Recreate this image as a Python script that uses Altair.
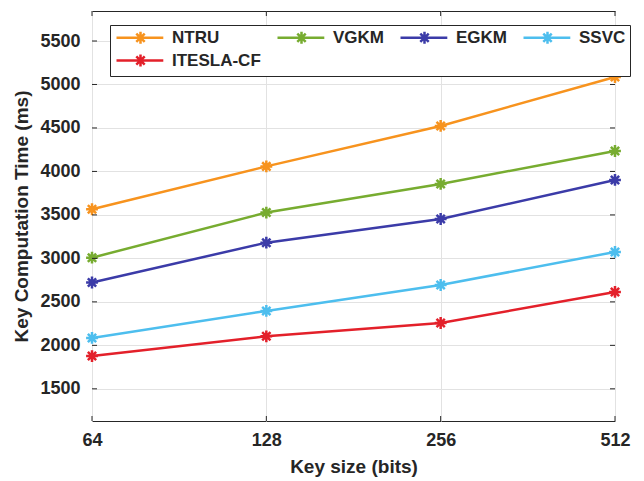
import altair as alt
import pandas as pd

key_sizes = ["64", "128", "256", "512"]
series = ["NTRU", "VGKM", "EGKM", "SSVC", "ITESLA-CF"]
ntru = [3565, 4058, 4523, 5086]
vgkm = [3008, 3527, 3856, 4235]
egkm = [2723, 3181, 3453, 3902]
ssvc = [2085, 2396, 2694, 3074]
itesla = [1877, 2104, 2257, 2614]
colors = ["#F7931E", "#77AC30", "#3B3BA8", "#4DBEEE", "#E3202A"]
y_ticks = [1500, 2000, 2500, 3000, 3500, 4000, 4500, 5000, 5500]

rows = []
for name, vals in zip(series, [ntru, vgkm, egkm, ssvc, itesla]):
    for k, v in zip(key_sizes, vals):
        rows.append({"size": k, "series": name, "time": v})
df = pd.DataFrame(rows)
ydf = pd.DataFrame({"time": y_ticks})
xdf = pd.DataFrame({"size": key_sizes})

W, H = 523, 410
FONT = "Liberation Sans"
TXT = "#262626"
star = "M0,-1V1M-1,0H1M-0.7,-0.7L0.7,0.7M-0.7,0.7L0.7,-0.7"
# legend symbol: line with asterisk, shifted right (unit = 6px at size 144)
leg_sym = ("M-1,0H6.8M3,-1V1M2,0H4"
           "M2.3,-0.7L3.7,0.7M2.3,0.7L3.7,-0.7")

x_enc = alt.X("size:O", sort=key_sizes, scale=alt.Scale(type="point", padding=0),
              axis=alt.Axis(title="Key size (bits)", labelAngle=0,
                            labelPadding=10, titlePadding=8, ticks=False,
                            domain=False, grid=True, gridColor="#E2E2E2",
                            labelFont=FONT, labelFontSize=18, labelFontWeight="bold",
                            labelColor=TXT, titleFont=FONT, titleFontSize=19,
                            titleFontWeight="bold", titleColor=TXT))
y_enc = alt.Y("time:Q", scale=alt.Scale(domain=[1130, 5845], nice=False, zero=False),
              axis=alt.Axis(title="Key Computation Time (ms)", values=y_ticks, format="d",
                            labelPadding=12, titlePadding=8, ticks=False,
                            domain=False, grid=True, gridColor="#E2E2E2",
                            labelFont=FONT, labelFontSize=18, labelFontWeight="bold",
                            labelColor=TXT, titleFont=FONT, titleFontSize=19,
                            titleFontWeight="bold", titleColor=TXT))
color_enc = alt.Color("series:N", sort=series,
                      scale=alt.Scale(domain=series, range=colors),
                      legend=alt.Legend(title=None, orient="none", legendX=18, legendY=14,
                                        columns=4, direction="horizontal",
                                        symbolType=leg_sym, symbolSize=144,
                                        symbolStrokeWidth=2.5, symbolFillColor="transparent",
                                        labelFont=FONT, labelFontSize=17, labelFontWeight="bold",
                                        labelColor=TXT, labelOffset=41,
                                        columnPadding=11, rowPadding=0,
                                        strokeColor=TXT, fillColor="white",
                                        padding=4, cornerRadius=0))

lines = alt.Chart(df).mark_line(strokeWidth=2.5).encode(x=x_enc, y=y_enc, color=color_enc)
pts = alt.Chart(df).mark_point(shape=star, size=140, strokeWidth=2.5, filled=False,
                               opacity=1).encode(x=x_enc, y=y_enc, color=color_enc)

ytick_l = alt.Chart(ydf).mark_rule(color=TXT, strokeWidth=1).encode(
    y=y_enc, x=alt.value(0), x2=alt.value(5))
ytick_r = alt.Chart(ydf).mark_rule(color=TXT, strokeWidth=1).encode(
    y=y_enc, x=alt.value(W - 5), x2=alt.value(W))
xtick_b = alt.Chart(xdf).mark_rule(color=TXT, strokeWidth=1).encode(
    x=x_enc, y=alt.value(H - 5), y2=alt.value(H))
xtick_t = alt.Chart(xdf).mark_rule(color=TXT, strokeWidth=1).encode(
    x=x_enc, y=alt.value(0), y2=alt.value(5))

chart = alt.layer(lines, pts, ytick_l, ytick_r, xtick_b, xtick_t).properties(
    width=W, height=H,
    autosize=alt.AutoSizeParams(type="none"),
    padding={"left": 92, "top": 11, "right": 29, "bottom": 60},
    background="white",
).configure_view(stroke=TXT, strokeWidth=1)

chart.save("out.html", embed_options={"renderer": "svg", "actions": False})
